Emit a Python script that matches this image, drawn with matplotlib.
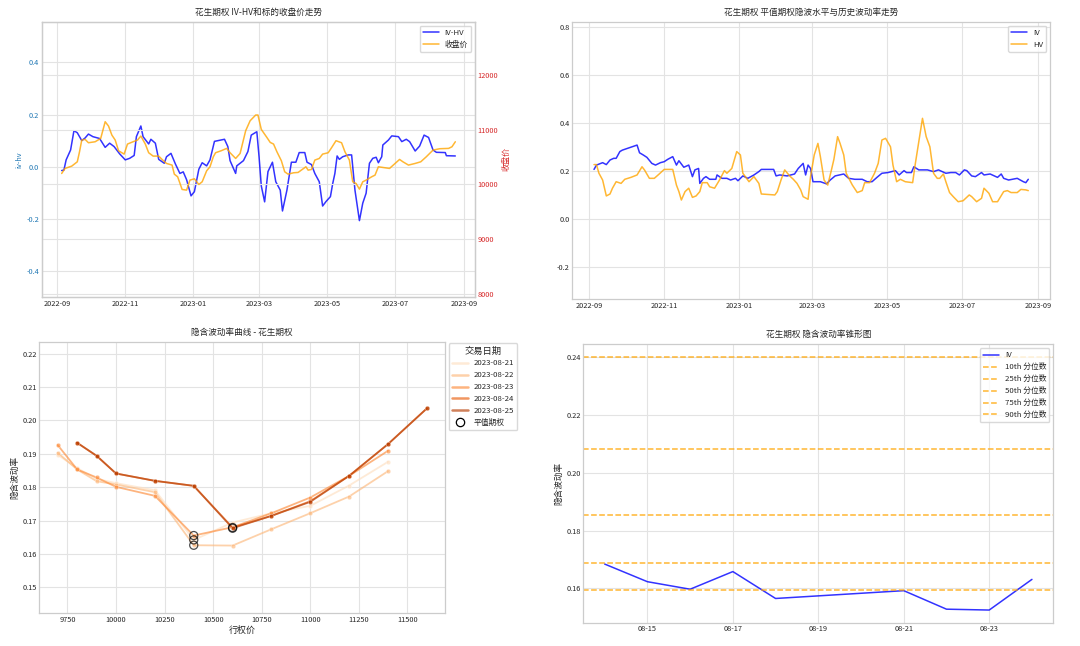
import numpy as np
import pandas as pd
import matplotlib
matplotlib.use("Agg")
import matplotlib.pyplot as plt
import matplotlib.dates as mdates
from matplotlib.lines import Line2D
import seaborn as sns

sns.set_style("whitegrid")
plt.rcParams['font.family'] = ['Noto Sans CJK SC', 'DejaVu Sans']
plt.rcParams['axes.unicode_minus'] = False

BASE = pd.Timestamp("2022-09-01")

# ---------- Panel 1: IV-HV and close price ----------
ivhv_days = [4, 6, 8, 12, 15, 18, 22, 25, 28, 32, 38, 43, 47, 51, 56, 61, 65, 69, 71, 75, 77, 82, 84, 88,
             91, 96, 98, 102, 106, 110, 113, 116, 120, 123, 127, 130, 134, 137, 141, 150, 153, 155, 160,
             161, 167, 171, 174, 179, 181, 183, 186, 189, 193, 196, 200, 202, 206, 210, 214, 217, 222,
             224, 228, 231, 235, 238, 241, 245, 247, 249, 251, 253, 256, 261, 264, 267, 271, 274, 277,
             280, 283, 286, 288, 291, 292, 297, 300, 306, 309, 313, 316, 321, 325, 329, 333, 337, 340,
             348, 349, 357]
ivhv_vals = [-0.015, -0.013, 0.026, 0.064, 0.138, 0.130, 0.100, 0.110, 0.125, 0.115, 0.108, 0.074, 0.090,
             0.077, 0.049, 0.026, 0.032, 0.043, 0.115, 0.156, 0.115, 0.087, 0.105, 0.090, 0.028, 0.013,
             0.038, 0.051, 0.010, -0.026, -0.020, -0.050, -0.112, -0.096, -0.010, 0.015, 0.003, 0.026,
             0.097, 0.105, 0.077, 0.023, -0.026, 0.003, 0.023, 0.058, 0.121, 0.134, 0.038, -0.074,
             -0.135, -0.019, 0.017, -0.058, -0.090, -0.170, -0.090, 0.017, 0.017, 0.054, 0.054, 0.017,
             0.008, -0.026, -0.058, -0.151, -0.134, -0.115, -0.066, -0.026, 0.041, 0.028, 0.038, 0.045,
             0.045, -0.090, -0.207, -0.140, -0.102, 0.013, 0.032, 0.036, 0.015, 0.038, 0.083, 0.102,
             0.118, 0.115, 0.096, 0.105, 0.096, 0.060, 0.079, 0.121, 0.112, 0.064, 0.055, 0.054, 0.042,
             0.041]

close_days = [4, 7, 13, 18, 20, 22, 25, 28, 34, 39, 43, 46, 49, 52, 55, 60, 63, 68, 72, 75, 79, 82, 86,
              91, 94, 98, 103, 105, 108, 112, 116, 119, 123, 127, 130, 134, 137, 140, 142, 147, 152, 155,
              160, 164, 169, 173, 178, 180, 183, 188, 191, 194, 197, 201, 204, 207, 212, 216, 221, 223,
              225, 228, 231, 235, 238, 243, 246, 250, 255, 258, 262, 265, 268, 271, 274, 277, 282, 285,
              288, 292, 298, 303, 307, 310, 315, 321, 326, 331, 337, 343, 351, 354, 357]
close_vals = [10200, 10292, 10334, 10413, 10596, 10809, 10821, 10760, 10778, 10839, 11143, 11064, 10900,
              10809, 10614, 10553, 10736, 10778, 10809, 10882, 10736, 10578, 10517, 10517, 10456, 10383,
              10353, 10188, 10140, 9909, 9897, 10079, 10103, 10000, 10049, 10249, 10322, 10505, 10578,
              10614, 10657, 10578, 10474, 10565, 10979, 11161, 11265, 11265, 11003, 10857, 10766, 10736,
              10596, 10432, 10231, 10188, 10213, 10219, 10292, 10322, 10261, 10273, 10444, 10474, 10553,
              10578, 10669, 10797, 10760, 10596, 10444, 10049, 10018, 9915, 10049, 10079, 10140, 10170,
              10322, 10310, 10292, 10383, 10456, 10413, 10353, 10383, 10413, 10505, 10626, 10651, 10657,
              10687, 10778]

# ---------- Panel 2: ATM IV vs HV ----------
iv_days = [4, 6, 11, 14, 17, 20, 22, 25, 27, 31, 39, 41, 44, 47, 51, 54, 58, 61, 64, 68, 71, 73, 77, 81,
           84, 86, 89, 90, 93, 95, 98, 103, 104, 108, 112, 115, 119, 121, 125, 129, 134, 138, 140, 150,
           152, 155, 161, 167, 170, 174, 176, 178, 180, 182, 188, 193, 196, 200, 207, 211, 216, 222, 226,
           230, 234, 238, 243, 249, 252, 256, 258, 262, 264, 268, 275, 280, 284, 290, 294, 298, 301, 305,
           307, 311, 314, 319, 321, 326, 332, 335, 337, 341, 348, 353, 355, 357]
iv_vals = [0.207, 0.225, 0.235, 0.227, 0.246, 0.253, 0.253, 0.281, 0.287, 0.294, 0.308, 0.276, 0.267,
           0.257, 0.232, 0.225, 0.235, 0.239, 0.249, 0.260, 0.225, 0.243, 0.216, 0.225, 0.177, 0.205,
           0.211, 0.149, 0.170, 0.177, 0.166, 0.166, 0.184, 0.170, 0.170, 0.163, 0.170, 0.160, 0.180,
           0.170, 0.184, 0.198, 0.207, 0.207, 0.180, 0.184, 0.180, 0.188, 0.211, 0.232, 0.184, 0.225,
           0.211, 0.156, 0.156, 0.147, 0.163, 0.180, 0.188, 0.170, 0.166, 0.166, 0.156, 0.156, 0.174,
           0.191, 0.194, 0.202, 0.184, 0.202, 0.194, 0.194, 0.218, 0.205, 0.205, 0.198, 0.205, 0.191,
           0.194, 0.194, 0.184, 0.205, 0.202, 0.180, 0.177, 0.194, 0.184, 0.188, 0.174, 0.188, 0.170,
           0.163, 0.170, 0.156, 0.152, 0.166]

hv_days = [4, 6, 8, 11, 14, 17, 19, 22, 26, 29, 34, 39, 43, 45, 49, 53, 57, 61, 68, 71, 73, 75, 78, 81,
           84, 87, 90, 92, 96, 98, 102, 106, 110, 112, 116, 120, 123, 125, 130, 134, 138, 140, 151, 153,
           156, 159, 163, 166, 169, 172, 174, 178, 180, 183, 186, 188, 191, 194, 197, 199, 202, 204, 207,
           209, 214, 218, 222, 224, 228, 232, 235, 238, 241, 245, 247, 250, 253, 257, 263, 265, 268, 271,
           274, 277, 280, 283, 285, 288, 290, 293, 296, 300, 304, 309, 311, 315, 319, 321, 325, 328, 332,
           337, 340, 343, 348, 351, 355, 357]
hv_vals = [0.227, 0.227, 0.191, 0.163, 0.097, 0.105, 0.129, 0.156, 0.149, 0.166, 0.174, 0.184, 0.218,
           0.205, 0.170, 0.170, 0.188, 0.207, 0.207, 0.142, 0.115, 0.080, 0.115, 0.129, 0.091, 0.097,
           0.115, 0.152, 0.152, 0.135, 0.129, 0.163, 0.202, 0.191, 0.211, 0.281, 0.267, 0.191, 0.156,
           0.177, 0.149, 0.105, 0.101, 0.115, 0.163, 0.205, 0.180, 0.166, 0.149, 0.122, 0.094, 0.083,
           0.177, 0.267, 0.315, 0.260, 0.163, 0.142, 0.205, 0.249, 0.343, 0.315, 0.267, 0.191, 0.142,
           0.111, 0.119, 0.152, 0.152, 0.191, 0.232, 0.329, 0.336, 0.301, 0.225, 0.156, 0.166, 0.156,
           0.152, 0.225, 0.322, 0.419, 0.343, 0.301, 0.191, 0.170, 0.170, 0.188, 0.156, 0.111, 0.094,
           0.073, 0.077, 0.101, 0.094, 0.073, 0.087, 0.129, 0.108, 0.073, 0.073, 0.115, 0.119, 0.111,
           0.111, 0.124, 0.122, 0.119]

# ---------- Panel 3: volatility smile ----------
smile_dates = ["2023-08-21", "2023-08-22", "2023-08-23", "2023-08-24", "2023-08-25"]
strikes_0821 = [9700, 9800, 9900, 10000, 10200, 10400, 10600, 10800, 11000, 11200, 11400]
iv_0821 = [0.1897, 0.1857, 0.1825, 0.1812, 0.1791, 0.1642, 0.1694, 0.1722, 0.1744, 0.1805, 0.1876]
strikes_0822 = [9700, 9800, 9900, 10000, 10200, 10400, 10600, 10800, 11000, 11200, 11400]
iv_0822 = [0.1903, 0.1853, 0.1818, 0.1808, 0.1785, 0.1626, 0.1625, 0.1674, 0.1722, 0.1772, 0.1848]
strikes_0823 = [9700, 9800, 9900, 10000, 10200, 10400, 10600, 10800, 11000, 11200, 11400]
iv_0823 = [0.1926, 0.1853, 0.1829, 0.1801, 0.1774, 0.1655, 0.1680, 0.1722, 0.1769, 0.1834, 0.1909]
strikes_0824 = [9800, 9900, 10000, 10200, 10400, 10600, 10800, 11000, 11200, 11400, 11600]
iv_0824 = [0.1933, 0.1894, 0.1841, 0.1819, 0.1804, 0.1679, 0.1714, 0.1758, 0.1834, 0.1929, 0.2036]
strikes_0825 = [9800, 9900, 10000, 10200, 10400, 10600, 10800, 11000, 11200, 11400, 11600]
iv_0825 = [0.1933, 0.1894, 0.1841, 0.1819, 0.1804, 0.1677, 0.1714, 0.1756, 0.1834, 0.1929, 0.2036]
atm_strikes = [10400, 10400, 10400, 10600, 10600]
atm_ivs = [0.1642, 0.1626, 0.1655, 0.1679, 0.1677]

# ---------- Panel 4: volatility cone ----------
cone_dates = ["2023-08-14", "2023-08-15", "2023-08-16", "2023-08-17", "2023-08-18",
              "2023-08-21", "2023-08-22", "2023-08-23", "2023-08-24"]
cone_iv = [0.1684, 0.1623, 0.1597, 0.1658, 0.1565, 0.1592, 0.1528, 0.1525, 0.1631]
pct_labels = ["10th", "25th", "50th", "75th", "90th"]
pct_values = [0.1595, 0.1686, 0.1854, 0.2082, 0.2400]
cone_ticks = ["2023-08-15", "2023-08-17", "2023-08-19", "2023-08-21", "2023-08-23"]

# ================= Figure =================
W, H = 1080, 646
fig = plt.figure(figsize=(W / 100, H / 100), dpi=100)

def rect(l, t, r, b):
    return [l / W, (H - b) / H, (r - l) / W, (b - t) / H]

TS = 6.2   # title size
TK = 5.3   # tick size
LS = 5.6   # legend size
grid_kw = dict(color="#e3e3e3", linewidth=0.8)

def style(ax):
    for s in ax.spines.values():
        s.set_color("#cccccc")
        s.set_linewidth(0.9)
    ax.tick_params(labelsize=TK, length=0, pad=2)
    ax.grid(True, **grid_kw)

date_fmt = mdates.DateFormatter("%Y-%m")
month_loc = mdates.MonthLocator(bymonth=[1, 3, 5, 7, 9, 11])

# ---- Panel 1 ----
ax1 = fig.add_axes(rect(42, 21.7, 475, 297))
style(ax1)
d1 = BASE + pd.to_timedelta(ivhv_days, unit="D")
d2 = BASE + pd.to_timedelta(close_days, unit="D")
l1, = ax1.plot(d1, ivhv_vals, color="blue", alpha=0.8, linewidth=1.1, label="IV-HV")
ax1.set_ylim(-0.5, 0.556)
ax1.set_ylabel("iv-hv", color="#1f77b4", fontsize=TK, labelpad=2)
ax1.tick_params(axis="y", labelcolor="#1f77b4")
ax1.set_yticks([-0.4, -0.2, 0.0, 0.2, 0.4])
ax1b = ax1.twinx()
style(ax1b)
l2, = ax1b.plot(d2, close_vals, color="orange", alpha=0.8, linewidth=1.1, label="收盘价")
ax1b.set_ylim(7950, 12965)
ax1b.set_yticks([8000, 9000, 10000, 11000, 12000])
ax1b.set_ylabel("收盘价", color="#d62728", fontsize=TK + 0.5, labelpad=2)
ax1b.tick_params(axis="y", labelcolor="#d62728")
ax1.xaxis.set_major_locator(month_loc)
ax1.xaxis.set_major_formatter(date_fmt)
ax1.set_title("花生期权 IV-HV和标的收盘价走势", fontsize=TS, pad=5)
ax1.legend([l1, l2], ["IV-HV", "收盘价"], loc="upper right", fontsize=LS, frameon=True,
           edgecolor="#d0d0d0", fancybox=True)

# ---- Panel 2 ----
ax2 = fig.add_axes(rect(572.3, 21.7, 1050, 299.3))
style(ax2)
d3 = BASE + pd.to_timedelta(iv_days, unit="D")
d4 = BASE + pd.to_timedelta(hv_days, unit="D")
ax2.plot(d3, iv_vals, color="blue", alpha=0.8, linewidth=1.1, label="IV")
ax2.plot(d4, hv_vals, color="orange", alpha=0.8, linewidth=1.1, label="HV")
ax2.set_ylim(-0.332, 0.82)
ax2.set_yticks([-0.2, 0.0, 0.2, 0.4, 0.6, 0.8])
ax2.xaxis.set_major_locator(mdates.MonthLocator(bymonth=[1, 3, 5, 7, 9, 11]))
ax2.xaxis.set_major_formatter(mdates.DateFormatter("%Y-%m"))
ax2.set_title("花生期权 平值期权隐波水平与历史波动率走势", fontsize=TS, pad=5)
ax2.legend(loc="upper right", fontsize=LS, edgecolor="#d0d0d0")

# ---- Panel 3 ----
ax3 = fig.add_axes(rect(39.3, 341.7, 445.3, 613.3))
style(ax3)
palette = sns.color_palette("Oranges", len(smile_dates))
smile_strikes = [strikes_0821, strikes_0822, strikes_0823, strikes_0824, strikes_0825]
smile_ivs = [iv_0821, iv_0822, iv_0823, iv_0824, iv_0825]
handles = []
for i, lab in enumerate(smile_dates):
    h, = ax3.plot(smile_strikes[i], smile_ivs[i], color=palette[i], alpha=0.65, linewidth=1.3,
                  marker="o", markersize=3.2, markeredgecolor="white", markeredgewidth=0.3, label=lab)
    handles.append(Line2D([0], [0], color=palette[i], alpha=0.65, linewidth=1.8))
ax3.scatter(atm_strikes, atm_ivs, s=34, facecolors="none", edgecolors="black", linewidths=0.9,
            alpha=0.7, zorder=5)
handles.append(Line2D([0], [0], linestyle="none", marker="o", markersize=6, markerfacecolor="none",
                      markeredgecolor="black", markeredgewidth=0.9))
ax3.set_xlim(9605, 11695)
ax3.set_ylim(0.1422, 0.2236)
ax3.set_xticks([9750, 10000, 10250, 10500, 10750, 11000, 11250, 11500])
ax3.set_yticks([0.15, 0.16, 0.17, 0.18, 0.19, 0.20, 0.21, 0.22])
ax3.yaxis.set_major_formatter(matplotlib.ticker.FormatStrFormatter("%.2f"))
ax3.set_xlabel("行权价", fontsize=TS + 0.3, labelpad=1)
ax3.set_ylabel("隐含波动率", fontsize=TS, labelpad=2)
ax3.set_title("隐含波动率曲线 - 花生期权", fontsize=TS, pad=5)
leg3 = ax3.legend(handles, smile_dates + ["平值期权"], title="交易日期", loc="upper left",
                  bbox_to_anchor=(1.005, 1.0), fontsize=LS, title_fontsize=TS + 0.5,
                  edgecolor="#d0d0d0", borderaxespad=0.2)

# ---- Panel 4 ----
ax4 = fig.add_axes(rect(583.3, 344.3, 1053.3, 622.7))
style(ax4)
cd = pd.to_datetime(cone_dates)
ax4.plot(cd, cone_iv, color="blue", alpha=0.8, linewidth=1.1, label="IV")
for lab, v in zip(pct_labels, pct_values):
    ax4.axhline(v, color="orange", linestyle="--", alpha=0.8, linewidth=1.1, label=f"{lab} 分位数")
ax4.set_xticks(pd.to_datetime(cone_ticks))
ax4.xaxis.set_major_formatter(mdates.DateFormatter("%m-%d"))
ax4.set_yticks([0.16, 0.18, 0.20, 0.22, 0.24])
ax4.yaxis.set_major_formatter(matplotlib.ticker.FormatStrFormatter("%.2f"))
ax4.set_ylabel("隐含波动率", fontsize=TS, labelpad=2)
ax4.set_title("花生期权 隐含波动率锥形图", fontsize=TS, pad=5)
ax4.legend(loc="upper right", fontsize=LS, edgecolor="#d0d0d0")

fig.savefig("out.png", dpi=100, facecolor="white")
